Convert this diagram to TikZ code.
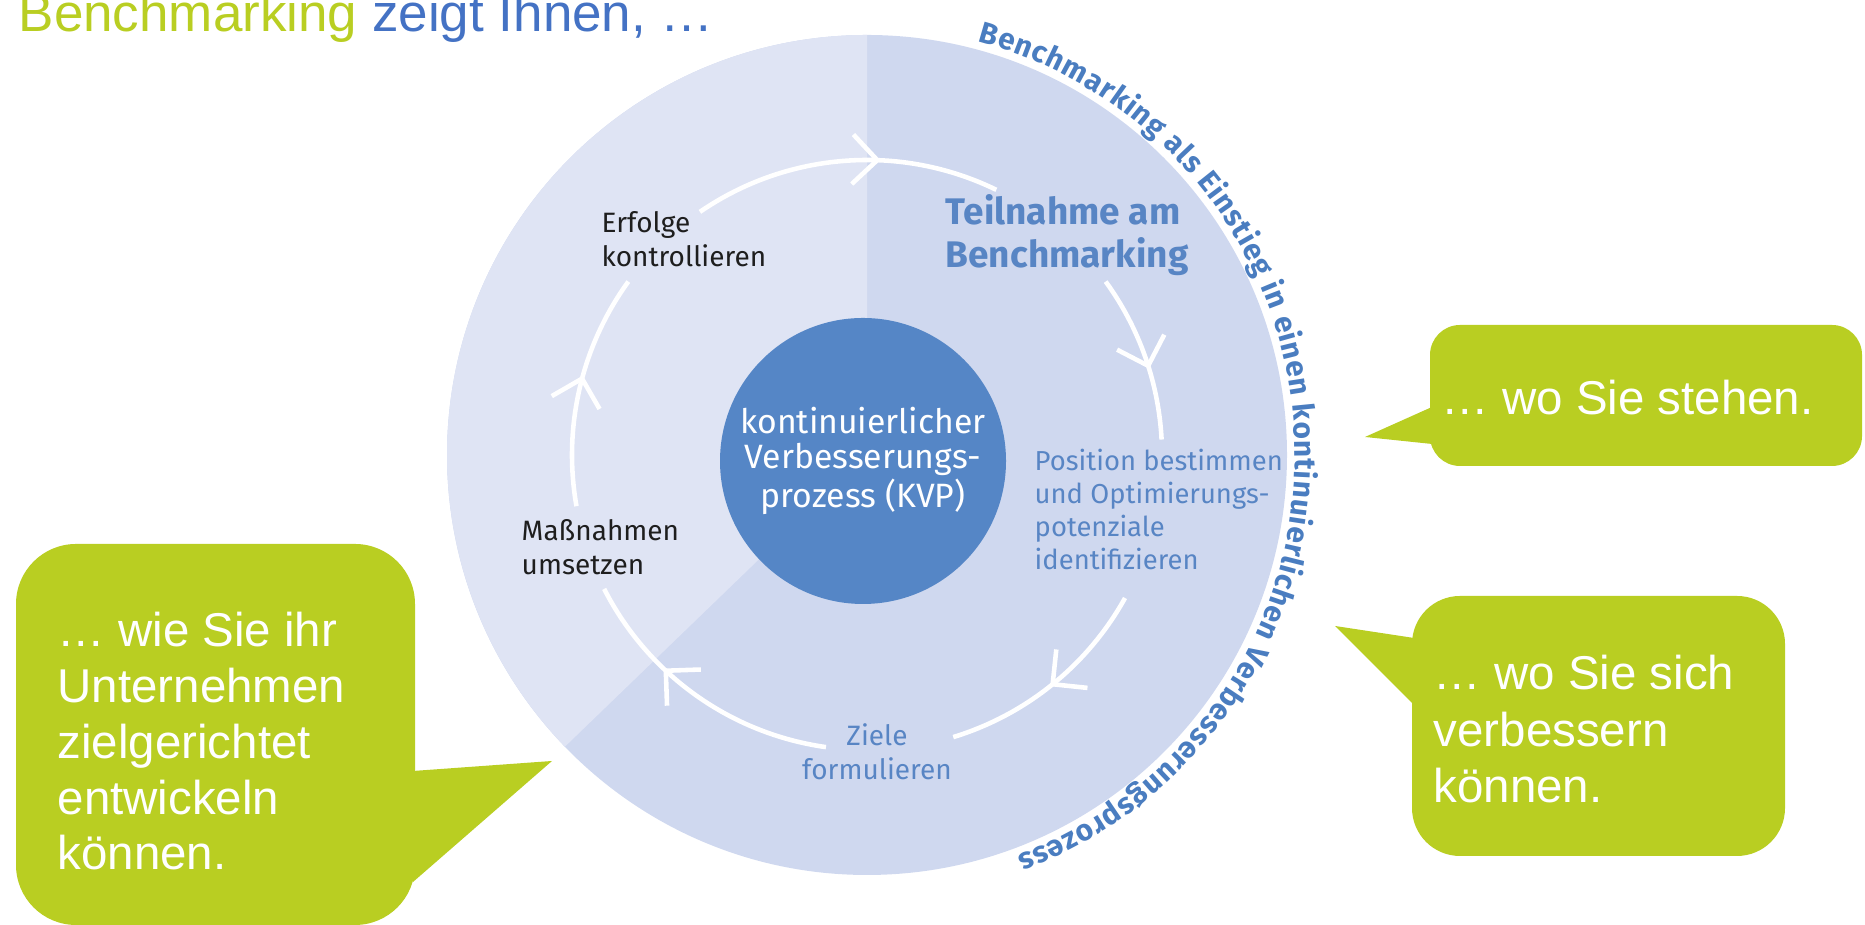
\documentclass[tikz,border=0pt]{standalone}
\usepackage{fontspec}
\setmainfont{Liberation Sans}
\newfontfamily\dfont{Fira Sans}
\usetikzlibrary{calc,decorations.text}
\definecolor{lightsec}{RGB}{223,228,244}
\definecolor{darksec}{RGB}{207,216,239}
\definecolor{kvpblue}{RGB}{85,134,198}
\definecolor{lblblue}{RGB}{88,133,196}
\definecolor{arcblue}{RGB}{74,125,192}
\definecolor{lime}{RGB}{185,206,34}
\definecolor{titleblue}{RGB}{68,114,196}
\definecolor{darktext}{RGB}{30,30,30}
\tikzset{
  ringarc/.style={draw=white, line width=1.3pt},
  lbl/.style={inner sep=0pt, align=left, font=\dfont\fontsize{7.97}{9.67}\selectfont},
  bubtext/.style={inner sep=0pt, align=left, text=white},
  bubble/.style={fill=lime},
}
\begin{document}
\begin{tikzpicture}
\useasboundingbox (0,0) rectangle (18.65,9.25);
\coordinate (C) at (8.67,4.70);
% big circle with two sectors
\fill[darksec] (C) circle[radius=4.2];
\fill[lightsec] (C) -- ++(90:4.2) arc[start angle=90,end angle=224,radius=4.2] -- cycle;
% ring arcs with arrow marks
\foreach \a/\b/\m in {124.5/64/88, 36/3/17.6, -29/-73/-51, -98/-153/-133, 190/144/165} {
  \draw[ringarc] ($(C)+(\a:2.95)$) arc[start angle=\a, end angle=\b, radius=2.95];
  \draw[ringarc] ($(C)+(\m:2.95)$) ++(\m+135:0.35) -- ($(C)+(\m:2.95)$) -- ++(\m+45:0.35);
}
% centre
\node[circle, fill=kvpblue, minimum size=2.86cm, inner sep=0pt, text=white, align=center,
      font=\dfont\fontsize{9.6}{9.96}\selectfont] (kvp) at (8.63,4.64)
      {kontinuierlicher\\Verbesserungs-\\prozess (KVP)};
% labels (base anchor = baseline of last line)
\node[lbl, text=darktext, anchor=base west] (erfolge) at (6.01,6.58) {Erfolge\\kontrollieren};
\node[lbl, text=darktext, anchor=base west] (massn) at (5.21,3.50) {Maßnahmen\\umsetzen};
\node[inner sep=0pt, align=left, text=lblblue, anchor=base west,
      font=\dfont\bfseries\fontsize{10.53}{12.23}\selectfont] (teiln) at (9.45,6.57)
      {Teilnahme am\\Benchmarking};
\node[lbl, text=lblblue, anchor=base west, font=\dfont\fontsize{7.8}{9.39}\selectfont] (pos) at (10.34,3.55)
      {Position bestimmen\\und Optimierungs-\\potenziale\\identifizieren};
\node[lbl, text=lblblue, anchor=base, align=center] (ziele) at (8.77,1.45) {Ziele\\formulieren};
% curved text
\path[decorate, decoration={text along path, text align=fit to path, text color=arcblue,
      text={|\dfont\bfseries\fontsize{8.5}{10}\selectfont|Benchmarking als Einstieg in einen kontinuierlichen Verbesserungsprozess}}]
  ($(C)+(75:4.28)$) arc[start angle=75, end angle=-69.5, radius=4.28];
% title
\node[inner sep=0pt, anchor=base west, font=\fontsize{15.08}{18}\selectfont] (title) at (0.18,8.93)
  {\textcolor{lime}{Benchmarking} \textcolor{titleblue}{zeigt Ihnen, …}};
% bubble 1
\fill[bubble, rounded corners=0.30cm] (14.30,6.00) rectangle (18.62,4.59);
\fill[bubble] (14.32,5.18) -- (13.65,4.88) -- (14.32,4.81) -- cycle;
\node[bubtext, anchor=base west, font=\fontsize{13.5}{16.2}\selectfont] (b1) at (14.41,5.10) {… wo Sie stehen.};
% bubble 2
\fill[bubble, rounded corners=0.48cm] (14.12,3.29) rectangle (17.85,0.69);
\fill[bubble] (14.14,2.87) -- (13.35,2.99) -- (14.14,2.20) -- cycle;
\node[bubtext, anchor=base west, font=\fontsize{13.5}{16.2}\selectfont] (b2) at (14.33,1.22) {… wo Sie sich\\verbessern\\können.};
% bubble 3
\fill[bubble, rounded corners=0.60cm] (0.16,3.81) rectangle (4.15,0.0);
\fill[bubble] (4.13,1.54) -- (5.52,1.64) -- (4.13,0.43) -- cycle;
\node[bubtext, anchor=base west, font=\fontsize{13.5}{15.9}\selectfont] (b3) at (0.57,0.55) {… wie Sie ihr\\Unternehmen\\zielgerichtet\\entwickeln\\können.};
\end{tikzpicture}
\end{document}
